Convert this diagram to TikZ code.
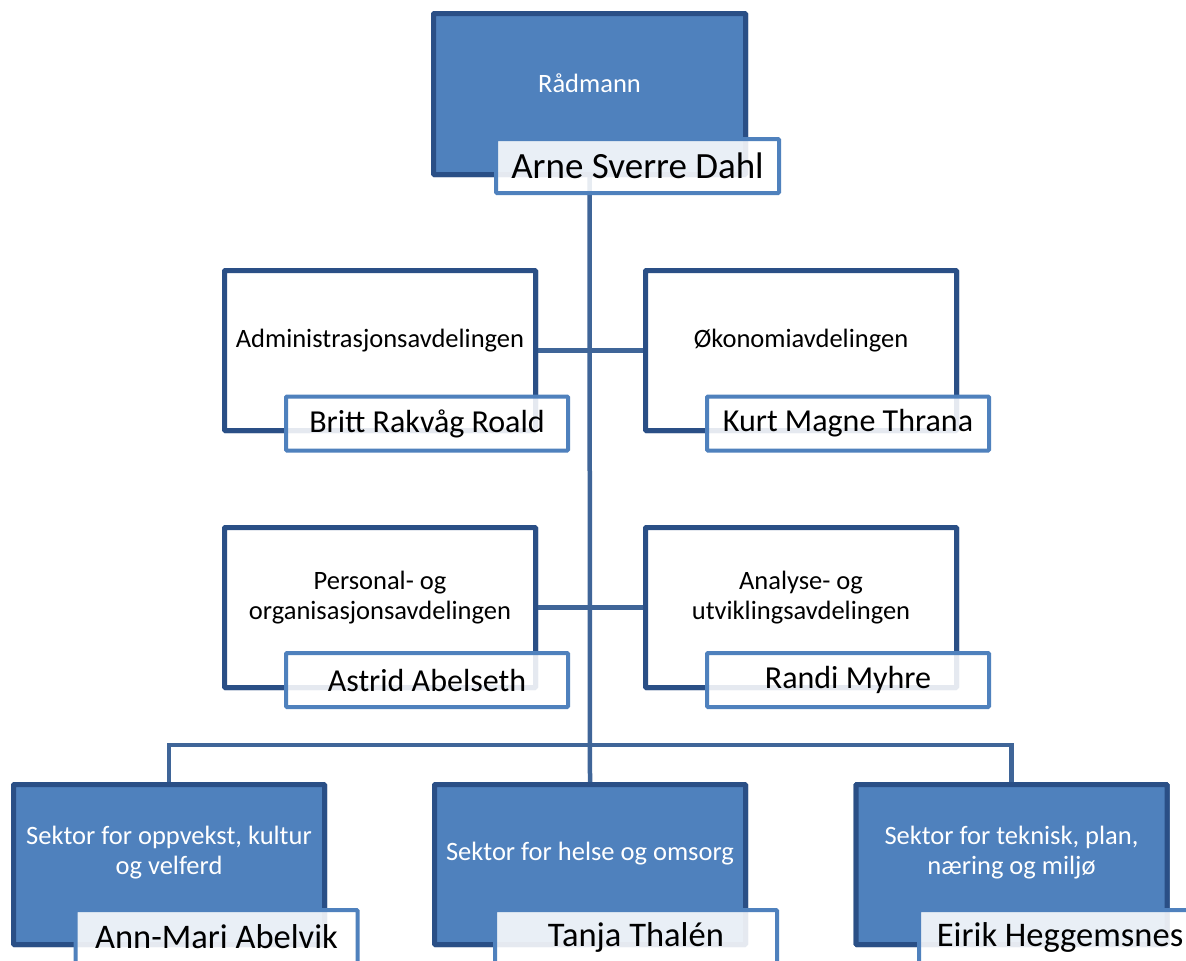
\documentclass[tikz,border=0pt]{standalone}
\usepackage{fontspec}
\setmainfont{Carlito}
\definecolor{boxfill}{HTML}{4F81BD}
\definecolor{boxdraw}{HTML}{2A4F86}
\definecolor{namedraw}{HTML}{4F81BD}
\definecolor{conncol}{HTML}{3F6598}
\tikzset{
  bluebox/.style={draw=boxdraw, line width=5pt, fill=boxfill, minimum width=311pt, minimum height=160pt, inner sep=0pt, rounded corners=1pt},
  whitebox/.style={draw=boxdraw, line width=5pt, fill=white, minimum width=311pt, minimum height=160pt, inner sep=0pt, rounded corners=1pt},
  namebox/.style={draw=namedraw, line width=4pt, fill=white, fill opacity=0.88, text opacity=1, minimum width=282pt, minimum height=54pt, inner sep=0pt, font=\fontsize{32}{38}\selectfont, rounded corners=1pt},
  bignamebox/.style={namebox, font=\fontsize{37}{42}\selectfont},
  secnamebox/.style={namebox, font=\fontsize{34.5}{40}\selectfont},
  wtext/.style={text=white, font=\fontsize{26.5}{30}\selectfont, align=center, inner sep=0pt},
  btext/.style={text=black, font=\fontsize{26.5}{30}\selectfont, align=center, inner sep=0pt},
  conn/.style={draw=conncol, line width=4.5pt}
}
\begin{document}
\begin{tikzpicture}[x=1pt, y=-1pt]
\clip (0,0) rectangle (1186,961);
\fill[white] (0,0) rectangle (1186,961);
% boxes (positions)
\node[bluebox, minimum height=161pt, minimum width=312pt] (rad) at (589.5,94) {};
\node[whitebox] (admin) at (380,350.5) {};
\node[whitebox] (oko) at (801,350.5) {};
\node[whitebox] (pers) at (380,607.5) {};
\node[whitebox] (anal) at (801,607.5) {};
\node[bluebox] (opp) at (169,864.5) {};
\node[bluebox] (hel) at (590,864.5) {};
\node[bluebox] (tek) at (1011.5,864.5) {};
% connectors
\coordinate (bus) at (590,745);
\draw[conn] (rad.south) -- (hel.north);
\draw[conn] (admin.east) -- (oko.west);
\draw[conn] (pers.east) -- (anal.west);
\draw[conn] (opp.north) |- (bus) -| (tek.north);
% redraw boxes on top of connectors
\node[bluebox, minimum height=161pt, minimum width=312pt] at (rad) {};
\node[whitebox] at (admin) {};
\node[whitebox] at (oko) {};
\node[whitebox] at (pers) {};
\node[whitebox] at (anal) {};
\node[bluebox] at (opp) {};
\node[bluebox] at (hel) {};
\node[bluebox] at (tek) {};
% titles
\node[wtext] (radt) at ([yshift=11pt]rad.center) {Rådmann};
\node[btext] (admint) at ([yshift=10pt]admin.center) {Administrasjonsavdelingen};
\node[btext] (okot) at ([yshift=10pt]oko.center) {Økonomiavdelingen};
\node[btext] (perst) at ([yshift=10pt]pers.center) {Personal- og\\organisasjonsavdelingen};
\node[btext] (analt) at ([yshift=10pt]anal.center) {Analyse- og\\utviklingsavdelingen};
\node[wtext] (oppt) at ([yshift=12pt]opp.center) {Sektor for oppvekst, kultur\\og velferd};
\node[wtext] (helt) at ([yshift=11pt]hel.center) {Sektor for helse og omsorg};
\node[wtext] (tekt) at ([yshift=12pt]tek.center) {Sektor for teknisk, plan,\\næring og miljø};
% name boxes
\node[bignamebox, minimum width=283pt] (radn) at (637.5,166) {Arne Sverre Dahl};
\node[namebox] (adminn) at (427,423.5) {Britt Rakvåg Roald};
\node[namebox] (okon) at (848,423.5) {Kurt Magne Thrana};
\node[namebox] (persn) at (427,680) {Astrid Abelseth};
\node[namebox] (analn) at (848,680) {Randi Myhre};
\node[secnamebox] (oppn) at (216.5,937) {Ann-Mari Abelvik};
\node[secnamebox] (heln) at (636,937) {Tanja Thalén};
\node[secnamebox] (tekn) at (1060,937) {Eirik Heggemsnes};
\end{tikzpicture}
\end{document}
